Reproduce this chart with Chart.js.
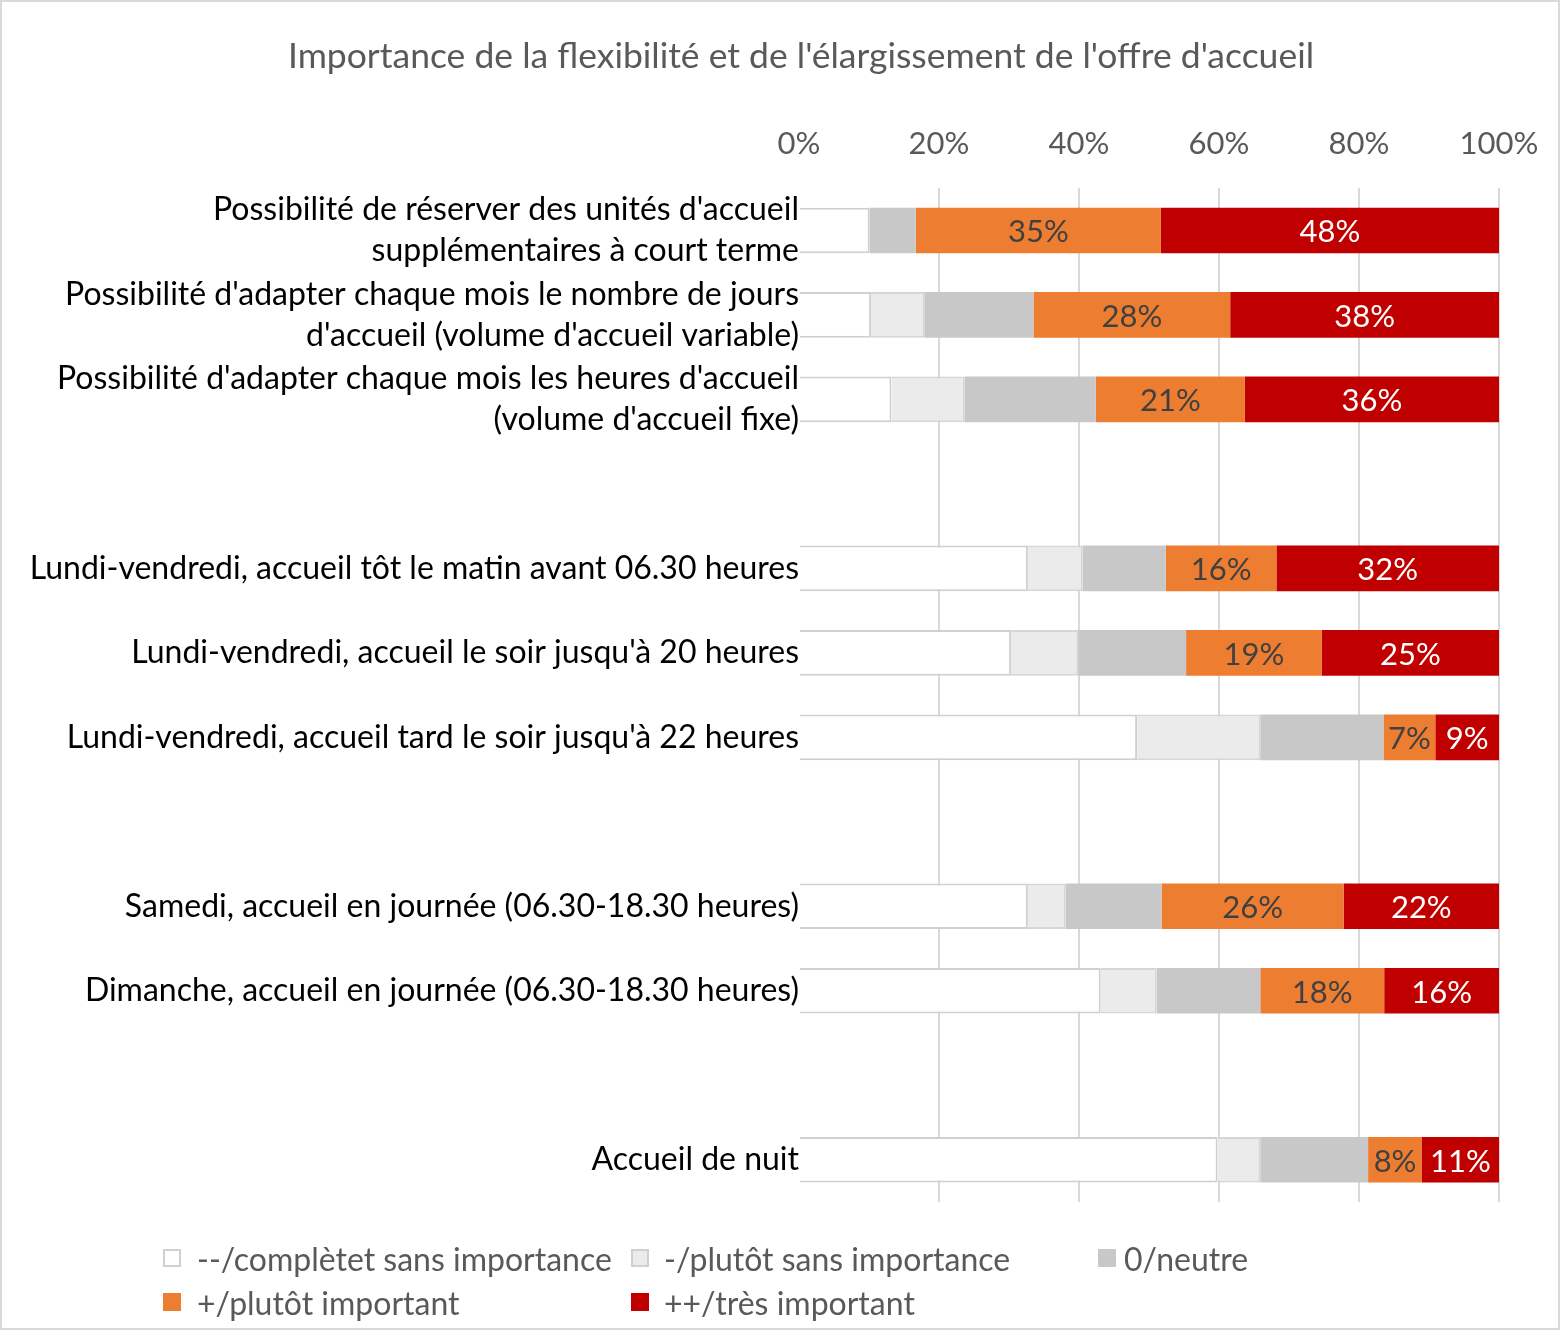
<!DOCTYPE html>
<html>
<head>
<meta charset="utf-8">
<title>Importance de la flexibilité</title>
<script src="https://cdn.jsdelivr.net/npm/chart.js@4.4.1/dist/chart.umd.min.js"></script>
<style>
  html, body { margin: 0; padding: 0; background: #fff; }
  #wrap { position: relative; width: 1560px; height: 1330px; }
  #frame { position: absolute; left: 0; top: 0; right: 0; bottom: 0; border: 2px solid #d9d9d9; pointer-events: none; }
  #legend { position: absolute; left: 0; top: 0; width: 1560px; height: 1330px; pointer-events: none;
            font: 32px Lato, sans-serif; color: #595959; }
  .item { position: absolute; display: flex; align-items: center; height: 40px; white-space: nowrap; }
  .box { width: 18px; height: 18px; box-sizing: border-box; }
</style>
</head>
<body>
<div id="wrap">
  <canvas id="chart" width="1560" height="1330"></canvas>
  <div id="legend"></div>
  <div id="frame"></div>
</div>
<script>
// Categories (empty strings are the gaps between groups)
const categories = [
    ["Possibilité de réserver des unités d'accueil", "supplémentaires à court terme"],
    ["Possibilité d'adapter chaque mois le nombre de jours", "d'accueil (volume d'accueil variable)"],
    ["Possibilité d'adapter chaque mois les heures d'accueil", "(volume d'accueil fixe)"],
    "",
    "Lundi-vendredi, accueil tôt le matin avant 06.30 heures",
    "Lundi-vendredi, accueil le soir jusqu'à 20 heures",
    "Lundi-vendredi, accueil tard le soir jusqu'à 22 heures",
    "",
    "Samedi, accueil en journée (06.30-18.30 heures)",
    "Dimanche, accueil en journée (06.30-18.30 heures)",
    "",
    "Accueil de nuit"
];

// Shares in percent
const sansImportance   = [10.1, 10.3, 13.2, null, 32.7, 30.3, 48.3, null, 32.7, 43.1, null, 59.8];
const plutotSans       = [0,     7.7, 10.5, null,  7.8,  9.6, 17.7, null,  5.4,  8.0, null,  6.1];
const neutre           = [6.6,  15.5, 18.7, null, 11.9, 15.4, 17.5, null, 13.7, 14.8, null, 15.4];
const plutotImportant  = [35.0, 28.1, 21.3, null, 15.8, 19.4,  7.4, null, 26.0, 17.7, null,  7.7];
const tresImportant    = [48.3, 38.4, 36.3, null, 31.8, 25.3,  9.1, null, 22.2, 16.4, null, 11.0];

const seriesNames = [
    "--/complètet sans importance",
    "-/plutôt sans importance",
    "0/neutre",
    "+/plutôt important",
    "++/très important"
];
const xTicks = [0, 20, 40, 60, 80, 100];
const chartTitle = "Importance de la flexibilité et de l'élargissement de l'offre d'accueil";

const FONT = 'Lato, sans-serif';

const datasets = [
    { label: seriesNames[0], data: sansImportance,  backgroundColor: '#ffffff', borderColor: '#d0d0d0', borderWidth: 2 },
    { label: seriesNames[1], data: plutotSans,      backgroundColor: '#ebebeb', borderColor: '#d6d6d6', borderWidth: 2 },
    { label: seriesNames[2], data: neutre,          backgroundColor: '#c8c8c8', borderColor: '#c8c8c8', borderWidth: 0 },
    { label: seriesNames[3], data: plutotImportant, backgroundColor: '#ed7d31', borderWidth: 0, valueColor: '#404040' },
    { label: seriesNames[4], data: tresImportant,   backgroundColor: '#c00000', borderWidth: 0, valueColor: '#ffffff' }
];

// value labels inside the orange and red segments
const valueLabels = {
    id: 'valueLabels',
    afterDatasetsDraw(chart) {
        const ctx = chart.ctx;
        ctx.save();
        ctx.font = '31px ' + FONT;
        ctx.textAlign = 'center';
        ctx.textBaseline = 'middle';
        chart.data.datasets.forEach((ds, i) => {
            if (!ds.valueColor) return;
            chart.getDatasetMeta(i).data.forEach((bar, j) => {
                const v = ds.data[j];
                if (v == null) return;
                const p = bar.getCenterPoint();
                ctx.fillStyle = ds.valueColor;
                ctx.fillText(Math.round(v) + '%', p.x, p.y + 2);
            });
        });
        ctx.restore();
    }
};

// the original title is not centred on the canvas, so draw it ourselves
const titlePlugin = {
    id: 'offsetTitle',
    afterDraw(chart) {
        const ctx = chart.ctx;
        ctx.save();
        ctx.font = '35.5px ' + FONT;
        ctx.fillStyle = '#595959';
        ctx.textAlign = 'center';
        ctx.textBaseline = 'middle';
        ctx.fillText(chartTitle, 801, 57);
        ctx.restore();
    }
};

const chart = new Chart(document.getElementById('chart'), {
    type: 'bar',
    data: { labels: categories, datasets: datasets },
    options: {
        indexAxis: 'y',
        responsive: false,
        animation: false,
        layout: { padding: { left: 0, right: 61, top: 99, bottom: 128 } },
        datasets: { bar: { categoryPercentage: 1, barPercentage: 0.54, borderSkipped: 'start' } },
        scales: {
            x: {
                position: 'top',
                stacked: true,
                min: 0, max: 100,
                afterBuildTicks: (scale) => { scale.ticks = xTicks.map(v => ({ value: v })); },
                afterFit: (scale) => { scale.paddingLeft = 0; scale.paddingRight = 0; },
                border: { display: false },
                grid: {
                    drawTicks: false,
                    lineWidth: 2,
                    color: (c) => (c.tick && c.tick.value === 0) ? 'rgba(0,0,0,0)' : '#d9d9d9'
                },
                ticks: {
                    padding: 26,
                    color: '#595959',
                    font: { family: FONT, size: 31 },
                    callback: (v) => v + '%'
                }
            },
            y: {
                stacked: true,
                border: { display: false },
                grid: { display: false, drawTicks: false },
                afterFit: (scale) => { scale.width = 799; },
                ticks: {
                    autoSkip: false,
                    padding: 0,
                    color: '#000000',
                    font: { family: FONT, size: 32, lineHeight: 1.28 }
                }
            }
        },
        plugins: {
            legend: { display: false },
            tooltip: { enabled: false },
            title: { display: false }
        }
    },
    plugins: [valueLabels, titlePlugin]
});

// legend in three columns, as in the original
const legendBoxX = [163, 631, 1098];
const legendTextGap = [16, 15, 8];
const legendRows = [1238, 1282];
const legend = document.getElementById('legend');
chart.data.datasets.forEach((ds, i) => {
    const col = i % 3;
    const item = document.createElement('div');
    item.className = 'item';
    item.style.left = legendBoxX[col] + 'px';
    item.style.top = legendRows[Math.floor(i / 3)] + 'px';
    const box = document.createElement('span');
    box.className = 'box';
    box.style.background = ds.backgroundColor;
    box.style.marginRight = legendTextGap[col] + 'px';
    if (i < 2) box.style.border = '2px solid #d0d0d0';
    item.appendChild(box);
    item.appendChild(document.createTextNode(ds.label));
    legend.appendChild(item);
});
</script>
</body>
</html>
